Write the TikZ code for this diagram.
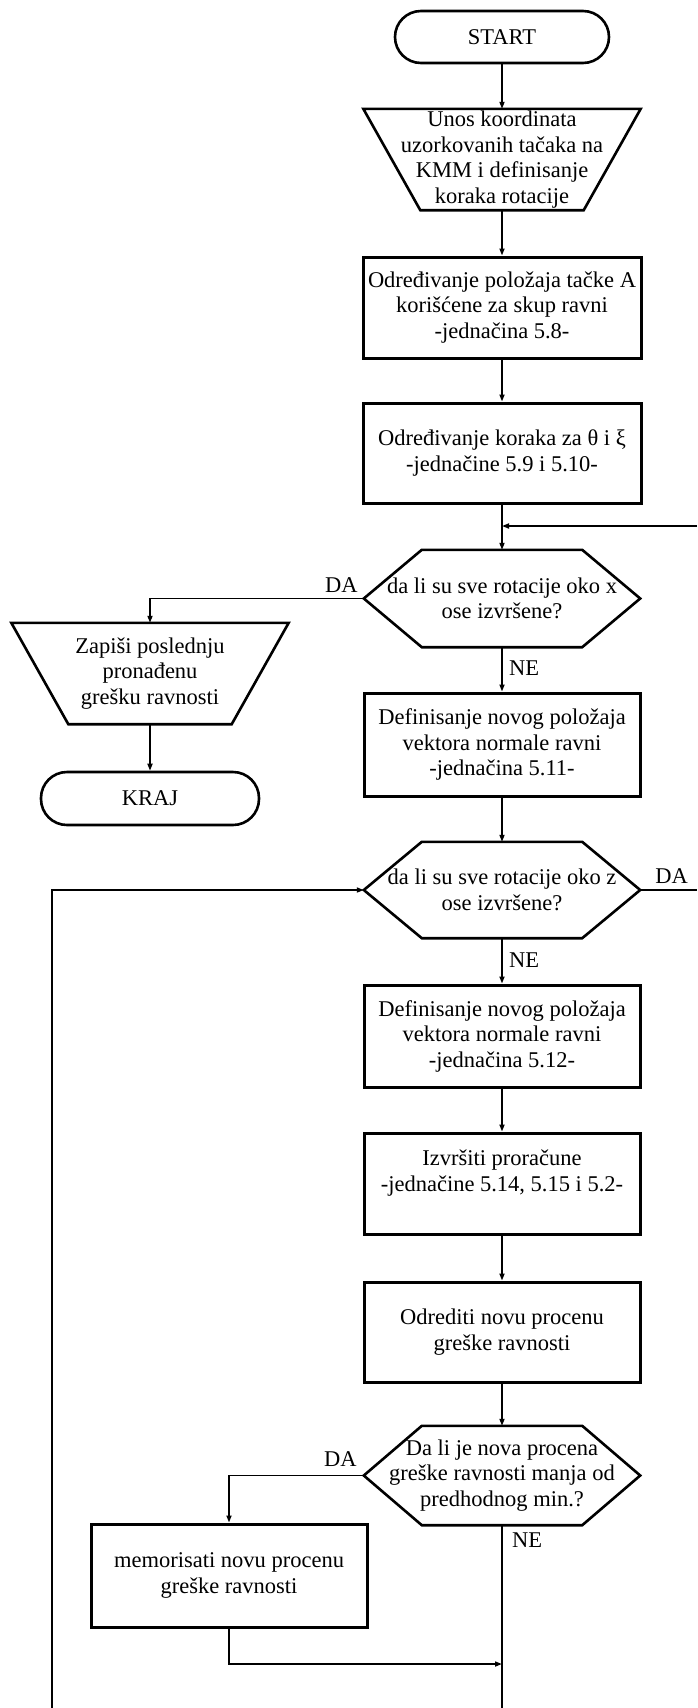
\documentclass[tikz,border=0pt]{standalone}
\usepackage{fontspec}
\setmainfont{Liberation Serif}
\usetikzlibrary{arrows.meta}

% outline of a decision hexagon drawn around an invisible node
\newcommand\hexout[1]{%
  \draw[shapeline] (#1.west) -- ([xshift=58pt]#1.north west) -- ([xshift=-58pt]#1.north east)
    -- (#1.east) -- ([xshift=-58pt]#1.south east) -- ([xshift=58pt]#1.south west) -- cycle;}
% outline of an input/output trapezoid (wide side on top)
\newcommand\trapout[1]{%
  \draw[shapeline] (#1.north west) -- (#1.north east) -- ([xshift=-57pt]#1.south east)
    -- ([xshift=57pt]#1.south west) -- cycle;}

\begin{document}
\begin{tikzpicture}[x=1pt,y=-1pt,
  every node/.style={font=\fontsize{22.5}{25.5}\selectfont, align=center, inner sep=0pt},
  shapeline/.style={line width=2.6pt, line join=miter},
  procbox/.style={draw, line width=3pt, minimum width=276pt, minimum height=101pt},
  termbox/.style={draw, line width=2.6pt, rounded corners=26pt, minimum width=214pt, minimum height=52pt},
  hexnode/.style={minimum width=276pt, minimum height=97pt},
  trapnode/.style={minimum width=277pt, minimum height=101pt},
  conn/.style={line width=1.6pt},
  arrow/.style={conn, -{Triangle[length=7pt,width=5pt]}},
  lbl/.style={}
]
\fill[white] (0,0) rectangle (697,1708);
\useasboundingbox (0,0) rectangle (697,1708);

% main column
\node[termbox] (start) at (502,37) {START};
\node[trapnode] (input) at (502,159.5) {Unos koordinata\\uzorkovanih tačaka na\\KMM i definisanje\\koraka rotacije};
\trapout{input}
\node[procbox, minimum width=278pt] (pointA) at (502,307.5) {Određivanje položaja tačke A\\korišćene za skup ravni\\-jednačina 5.8-};
\node[procbox, minimum width=278pt, minimum height=100pt] (steps) at (502,453) {Određivanje koraka za θ i ξ\\-jednačine 5.9 i 5.10-};
\node[hexnode] (xdone) at (502,598.5) {da li su sve rotacije oko x\\ose izvršene?};
\hexout{xdone}
\node[procbox, minimum height=103pt] (normx) at (502,744.5) {Definisanje novog položaja\\vektora normale ravni\\-jednačina 5.11-};
\node[hexnode, minimum height=96pt] (zdone) at (502,890) {da li su sve rotacije oko z\\ose izvršene?};
\hexout{zdone}
\node[procbox, minimum height=102pt] (normz) at (502,1036) {Definisanje novog položaja\\vektora normale ravni\\-jednačina 5.12-};
\node[procbox] (calc) at (502,1183.5) {Izvršiti proračune\\-jednačine 5.14, 5.15 i 5.2-\\\mbox{}};
\node[procbox, minimum height=100pt] (est) at (502,1332) {Odrediti novu procenu\\greške ravnosti};
\node[hexnode, minimum height=99pt] (less) at (502,1475.5) {Da li je nova procena\\greške ravnosti manja od\\predhodnog min.?};
\hexout{less}

% side branches
\node[trapnode] (write) at (150,673.5) {Zapiši poslednju\\pronađenu\\grešku ravnosti};
\trapout{write}
\node[termbox, minimum width=218pt, minimum height=53pt] (kraj) at (150,798.5) {KRAJ};
\node[procbox, minimum height=103pt] (store) at (229,1575.5) {memorisati novu procenu\\greške ravnosti};

% free ends of the loop lines
\coordinate (loopR) at (697,526);
\coordinate (joinA) at (502,526);
\coordinate (exitR) at (697,890);
\coordinate (loopB) at (52,1708);
\coordinate (exitB) at (502,1708);
\coordinate (merge) at (502,1664);

% connectors
\draw[arrow] (start.south) -- (input.north);
\draw[arrow] (input.south) -- (pointA.north);
\draw[arrow] (pointA.south) -- (steps.north);
\draw[arrow] (steps.south) -- (xdone.north);
\draw[arrow] (loopR) -- (joinA);
\draw[arrow] (xdone.west) -| (write.north);
\draw[arrow] (write.south) -- (kraj.north);
\draw[arrow] (xdone.south) -- (normx.north);
\draw[arrow] (normx.south) -- (zdone.north);
\draw[conn] (zdone.east) -- (exitR);
\draw[arrow] (loopB) |- (zdone.west);
\draw[arrow] (zdone.south) -- (normz.north);
\draw[arrow] (normz.south) -- (calc.north);
\draw[arrow] (calc.south) -- (est.north);
\draw[arrow] (est.south) -- (less.north);
\draw[arrow] (less.west) -| (store.north);
\draw[conn] (less.south) -- (exitB);
\draw[arrow] (store.south) |- (merge);

% branch labels
\node[lbl, anchor=south east, xshift=-6pt, yshift=6pt] (da1) at (xdone.west) {DA};
\node[lbl, anchor=north west, xshift=7pt, yshift=-13pt] (ne1) at (xdone.south) {NE};
\node[lbl, anchor=south west, xshift=15pt, yshift=6pt] (da2) at (zdone.east) {DA};
\node[lbl, anchor=north west, xshift=7pt, yshift=-14pt] (ne2) at (zdone.south) {NE};
\node[lbl, anchor=south east, xshift=-7pt, yshift=9pt] (da3) at (less.west) {DA};
\node[lbl, anchor=north west, xshift=10pt, yshift=-7pt] (ne3) at (less.south) {NE};
\end{tikzpicture}
\end{document}
